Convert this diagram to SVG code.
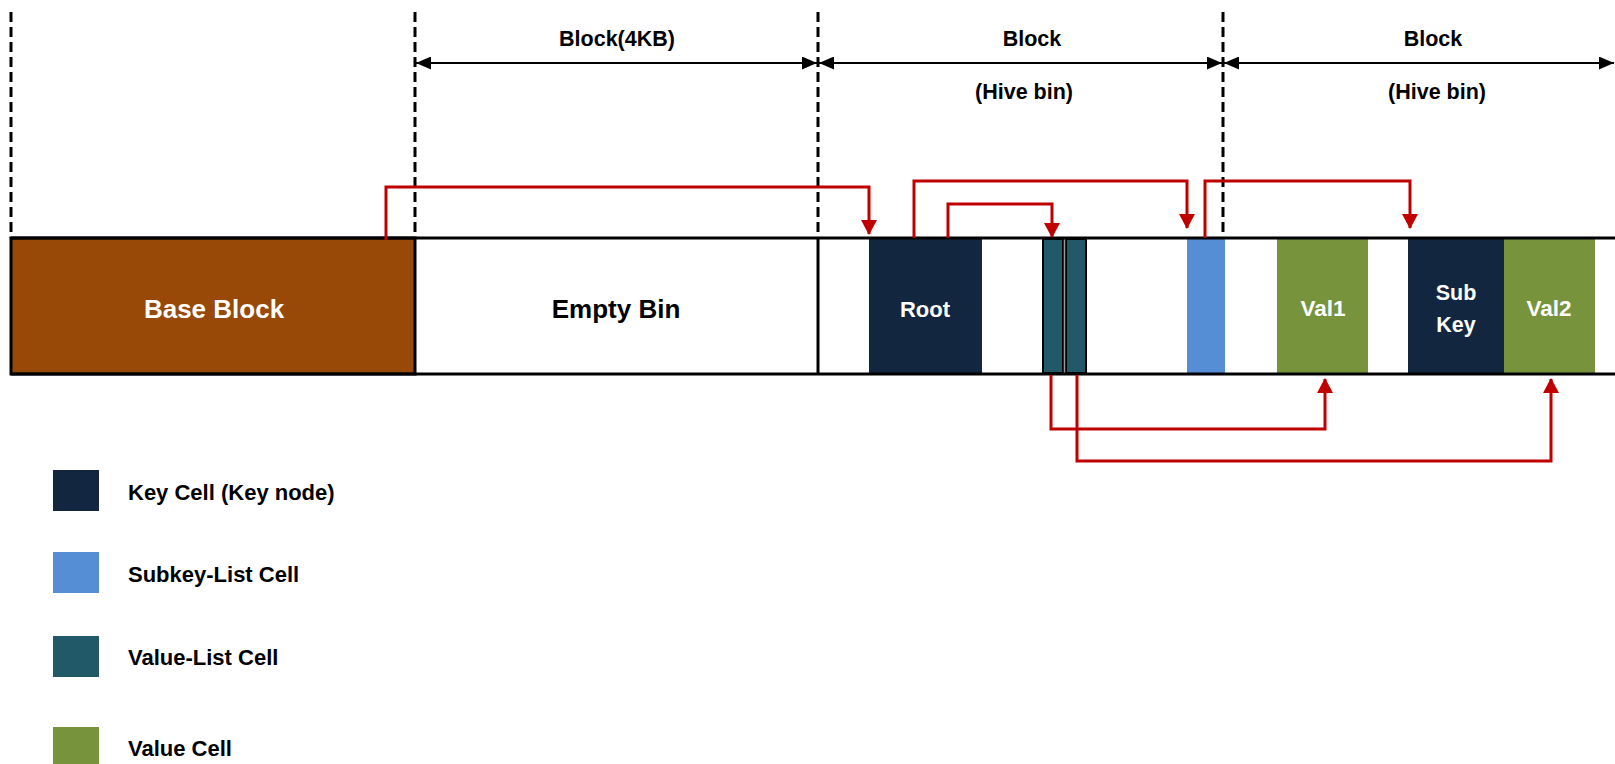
<svg xmlns="http://www.w3.org/2000/svg" width="1615" height="764" viewBox="0 0 1615 764">
<style>
text{font-family:"Liberation Sans",Arial,sans-serif;font-weight:bold}
.w{fill:#fff}
.k{fill:#000}
.dash{stroke:#000;stroke-width:3;stroke-dasharray:10 5;fill:none}
.band{stroke:#000;stroke-width:3;fill:none}
.dim{stroke:#000;stroke-width:2;fill:none;marker-start:url(#ah);marker-end:url(#ah)}
.red{stroke:#C00000;stroke-width:3;fill:none;marker-end:url(#rh)}
.key{fill:#12263F}
.sub{fill:#558ED5}
.vl{fill:#215968;stroke:#000;stroke-width:2}
.val{fill:#77933C}
</style>
<defs>
<marker id="ah" viewBox="0 0 15 13" refX="15" refY="6.5" markerWidth="15" markerHeight="13" markerUnits="userSpaceOnUse" orient="auto-start-reverse">
<path d="M0,0 L15,6.5 L0,13 Z" fill="#000"/>
</marker>
<marker id="rh" viewBox="0 0 15 16" refX="14" refY="8" markerWidth="15" markerHeight="16" markerUnits="userSpaceOnUse" orient="auto">
<path d="M0,0 L15,8 L0,16 Z" fill="#C00000"/>
</marker>
</defs>

<g id="guides">
<line class="dash" x1="11" y1="12" x2="11" y2="238"/>
<line class="dash" x1="415" y1="12" x2="415" y2="238"/>
<line class="dash" x1="818" y1="12" x2="818" y2="238"/>
<line class="dash" x1="1223" y1="12" x2="1223" y2="238"/>
</g>

<g id="dimensions">
<line class="dim" x1="416" y1="63" x2="817" y2="63"/>
<line class="dim" x1="819" y1="63" x2="1222" y2="63"/>
<line class="dim" x1="1224" y1="63" x2="1614" y2="63"/>
<text x="617" y="46" font-size="21.5" text-anchor="middle" class="k">Block(4KB)</text>
<text x="1032" y="46" font-size="21.5" text-anchor="middle" class="k">Block</text>
<text x="1024" y="99" font-size="21.5" text-anchor="middle" class="k">(Hive bin)</text>
<text x="1433" y="46" font-size="21.5" text-anchor="middle" class="k">Block</text>
<text x="1437" y="99" font-size="21.5" text-anchor="middle" class="k">(Hive bin)</text>
</g>

<g id="base-block">
<rect x="11" y="238" width="404" height="136" fill="#984807" stroke="#000" stroke-width="3"/>
<text x="214" y="318" font-size="26" text-anchor="middle" class="w">Base Block</text>
</g>

<g id="empty-bin">
<text x="616" y="318" font-size="26" text-anchor="middle" class="k">Empty Bin</text>
</g>

<g id="root">
<rect class="key" x="869" y="239" width="113" height="135"/>
<text x="925" y="317" font-size="22" text-anchor="middle" class="w">Root</text>
</g>

<g id="value-list">
<rect class="vl" x="1043" y="239" width="20" height="134"/>
<rect class="vl" x="1066" y="239" width="20" height="134"/>
<line x1="1064.5" y1="239" x2="1064.5" y2="373" stroke="#999" stroke-width="1.5"/>
</g>

<g id="subkey-list">
<rect class="sub" x="1187" y="239" width="38" height="134"/>
</g>

<g id="val1">
<rect class="val" x="1277" y="239" width="91" height="134"/>
<text x="1323" y="316" font-size="22.5" text-anchor="middle" class="w">Val1</text>
</g>

<g id="subkey">
<rect class="key" x="1408" y="239" width="96" height="134"/>
<text x="1456" y="300" font-size="21.5" text-anchor="middle" class="w">Sub</text>
<text x="1456" y="332" font-size="21.5" text-anchor="middle" class="w">Key</text>
</g>

<g id="val2">
<rect class="val" x="1504" y="239" width="91" height="134"/>
<text x="1549" y="316" font-size="22.5" text-anchor="middle" class="w">Val2</text>
</g>

<g id="band">
<line class="band" x1="11" y1="238" x2="1615" y2="238"/>
<line class="band" x1="11" y1="374" x2="1615" y2="374"/>
<line class="band" x1="818" y1="238" x2="818" y2="374"/>
</g>

<g id="connectors">
<polyline class="red" points="386,240 386,187 869,187 869,234"/>
<polyline class="red" points="914,238 914,181 1187,181 1187,228"/>
<polyline class="red" points="948,238 948,204 1052,204 1052,237"/>
<polyline class="red" points="1205,238 1205,181 1410,181 1410,228"/>
<polyline class="red" points="1051,375 1051,429 1325,429 1325,379"/>
<polyline class="red" points="1077,375 1077,461 1551,461 1551,379"/>
</g>

<g id="legend">
<rect class="key" x="53" y="470" width="46" height="41"/>
<text x="128" y="500" font-size="22" class="k">Key Cell (Key node)</text>
<rect class="sub" x="53" y="552" width="46" height="41"/>
<text x="128" y="582" font-size="22" class="k">Subkey-List Cell</text>
<rect fill="#215968" x="53" y="636" width="46" height="41"/>
<text x="128" y="665" font-size="22" class="k">Value-List Cell</text>
<rect class="val" x="53" y="727" width="46" height="37"/>
<text x="128" y="756" font-size="22" class="k">Value Cell</text>
</g>
</svg>
